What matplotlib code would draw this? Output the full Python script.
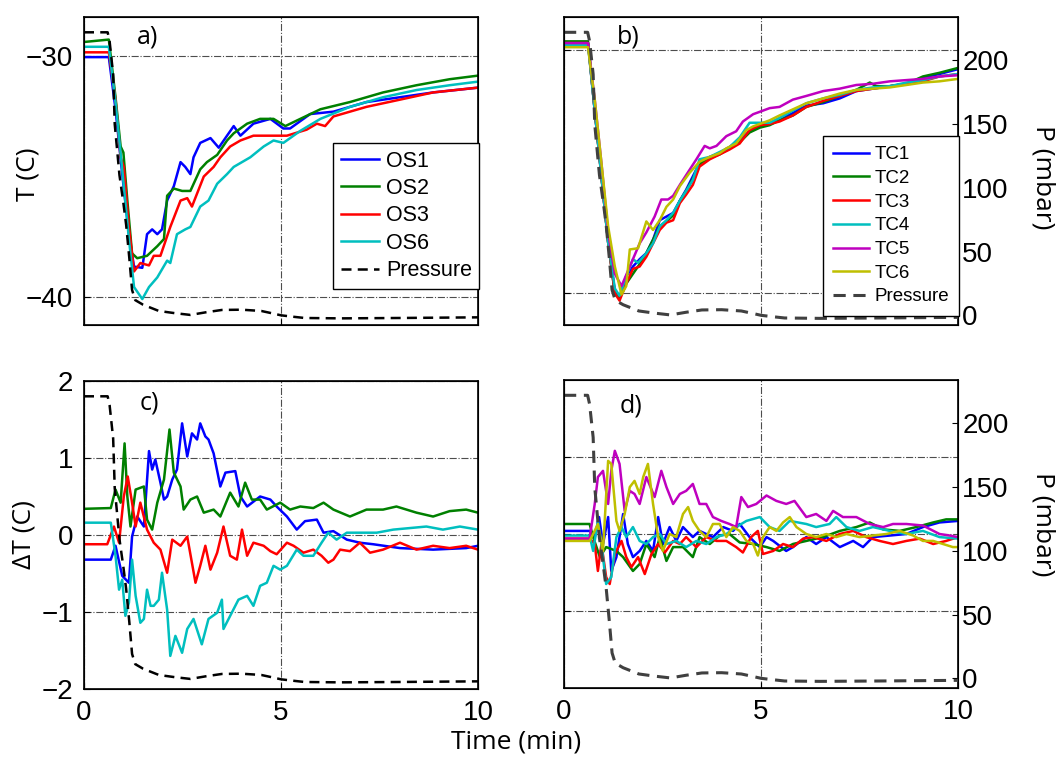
import numpy as np
import matplotlib
matplotlib.use("Agg")
import matplotlib.pyplot as plt
from matplotlib import font_manager

plt.rcParams['font.family'] = ['Liberation Sans', 'DejaVu Sans']

# narrow font for the crowded legend in b), if available
installed = {f.name for f in font_manager.fontManager.ttflist}
narrow = 'Liberation Sans Narrow' if 'Liberation Sans Narrow' in installed else 'Liberation Sans'

W, H = 1059, 757

# colours (matlab style)
c_blue, c_green, c_red = '#0000ff', '#008000', '#ff0000'
c_cyan, c_mag, c_yel = '#00bfbf', '#bf00bf', '#bfbf00'

# ---- pressure (mbar) vs time (min), same run for every panel
t_p = [0, 0.60, 0.65, 0.74, 0.78, 0.90, 1.00, 1.07, 1.15, 1.22, 1.30, 1.50, 1.90, 2.30, 2.70, 3.10, 3.50, 4.00,
       4.50, 4.80, 5.00, 5.30, 5.60, 6.50, 8.00, 10]
p_mbar = [222, 222, 215, 189, 150, 110, 88, 71, 45, 20, 12, 8.4, 3.5, 1.8, 0.4, 2.5, 4.3, 4.5,
          3.5, 1.5, 0.1, -1, -2, -2.3, -2, -1.5]

# ---- a) OS sensors temperature (C)
t_os1 = [0, 0.63, 0.80, 0.97, 1.14, 1.27, 1.48, 1.60, 1.73, 1.86, 1.98, 2.11, 2.28, 2.45, 2.57, 2.70, 2.78, 2.95,
         3.21, 3.42, 3.63, 3.80, 3.97, 4.30, 4.73, 5.06, 5.23, 5.74, 6.33, 7.17, 8.02, 8.86, 10]
T_os1 = [-30.03, -30.03, -32.2, -34.9, -37.4, -38.75, -38.8, -37.4, -37.2, -37.4, -37.2, -36.0, -35.4, -34.4, -34.6,
         -34.9, -34.2, -33.6, -33.4, -33.8, -33.3, -32.9, -33.3, -32.8, -32.6, -33.0, -33.0, -32.4, -32.3, -31.9,
         -31.7, -31.5, -31.3]
t_os2 = [0, 0.63, 0.80, 0.93, 1.00, 1.10, 1.22, 1.35, 1.60, 1.86, 2.03, 2.11, 2.28, 2.49, 2.70, 2.95, 3.12, 3.38,
         3.63, 3.80, 4.14, 4.47, 4.81, 5.11, 5.49, 6.00, 6.75, 7.59, 8.44, 9.28, 10]
T_os2 = [-29.4, -29.3, -31.7, -33.75, -34.0, -36.0, -38.2, -38.4, -38.3, -37.9, -37.6, -35.8, -35.5, -35.6, -35.6,
         -34.7, -34.4, -34.1, -33.5, -33.2, -32.8, -32.6, -32.6, -32.9, -32.6, -32.2, -31.9, -31.5, -31.2, -30.95,
         -30.8]
t_os3 = [0, 0.63, 0.80, 0.93, 1.01, 1.14, 1.27, 1.43, 1.65, 1.77, 1.94, 2.19, 2.45, 2.62, 2.74, 3.04, 3.29, 3.46,
         3.71, 3.97, 4.30, 4.64, 5.15, 5.65, 5.91, 6.12, 6.33, 7.17, 8.02, 8.86, 10]
T_os3 = [-29.83, -29.83, -31.8, -34.2, -34.6, -37.1, -38.95, -38.6, -38.7, -38.3, -38.3, -37.1, -36.0, -35.9, -36.25,
         -35.0, -34.6, -34.2, -33.75, -33.5, -33.3, -33.3, -33.3, -33.05, -32.8, -32.9, -32.5, -32.1, -31.8, -31.5,
         -31.3]
t_os6 = [0, 0.63, 0.80, 0.97, 1.14, 1.27, 1.48, 1.65, 1.86, 2.11, 2.19, 2.36, 2.57, 2.70, 2.95, 3.16, 3.38, 3.63,
         3.80, 4.22, 4.56, 4.81, 5.06, 5.49, 6.00, 6.75, 7.59, 8.44, 9.28, 10]
T_os6 = [-29.6, -29.6, -31.9, -34.7, -37.6, -39.6, -40.1, -39.6, -39.2, -38.5, -38.6, -37.4, -37.2, -37.1, -36.25,
         -36.0, -35.3, -34.9, -34.6, -34.2, -33.75, -33.5, -33.6, -33.1, -32.6, -32.1, -31.7, -31.4, -31.2, -31.05]

# ---- b) TC sensors temperature (C)
t_tc1 = [0, 0.61, 0.78, 0.95, 1.12, 1.29, 1.41, 1.58, 1.75, 1.92, 2.09, 2.26, 2.43, 2.60, 2.77, 2.94, 3.10, 3.27,
         3.44, 3.70, 3.95, 4.20, 4.46, 4.71, 4.97, 5.22, 5.47, 5.81, 6.15, 6.58, 7.00, 7.42, 7.84, 8.27, 8.69, 9.11,
         9.53, 10]
T_tc1 = [-29.73, -29.73, -32.5, -35.2, -37.9, -39.9, -40.2, -39.3, -38.9, -38.6, -38.35, -37.8, -37.0, -36.85, -36.7,
         -36.2, -35.75, -35.2, -34.65, -34.4, -34.25, -34.0, -33.7, -33.35, -33.15, -33.05, -32.9, -32.6, -32.3,
         -32.2, -32.0, -31.7, -31.6, -31.5, -31.4, -31.15, -31.0, -30.8]
t_tc2 = [0, 0.61, 0.78, 0.95, 1.12, 1.29, 1.41, 1.58, 1.75, 1.92, 2.09, 2.26, 2.43, 2.60, 2.77, 2.94, 3.10, 3.27,
         3.44, 3.70, 3.95, 4.20, 4.46, 4.71, 4.97, 5.22, 5.47, 5.81, 6.15, 6.58, 7.00, 7.42, 7.76, 7.93, 8.27, 8.69,
         9.11, 9.53, 10]
T_tc2 = [-29.66, -29.66, -32.5, -35.2, -37.9, -40.0, -40.2, -39.6, -39.2, -38.8, -38.35, -37.8, -37.25, -37.05, -36.8,
         -36.2, -35.8, -35.3, -34.7, -34.45, -34.3, -34.05, -33.8, -33.4, -33.2, -33.1, -32.9, -32.7, -32.35, -32.15,
         -31.9, -31.65, -31.35, -31.5, -31.5, -31.4, -31.1, -30.95, -30.75]
t_tc3 = [0, 0.61, 0.78, 0.95, 1.12, 1.29, 1.41, 1.58, 1.75, 1.92, 2.09, 2.26, 2.43, 2.60, 2.77, 2.94, 3.10, 3.27,
         3.44, 3.70, 3.95, 4.20, 4.46, 4.71, 4.97, 5.22, 5.47, 5.81, 6.15, 6.58, 7.00, 7.42, 7.84, 8.27, 8.69, 9.11,
         9.53, 10]
T_tc3 = [-29.73, -29.73, -32.5, -35.2, -37.9, -40.0, -40.3, -39.6, -39.0, -38.9, -38.5, -37.95, -37.4, -37.1, -37.0,
         -36.3, -35.95, -35.55, -34.8, -34.5, -34.3, -34.1, -33.85, -33.3, -33.1, -33.05, -32.95, -32.7, -32.35,
         -32.1, -31.9, -31.7, -31.6, -31.5, -31.4, -31.3, -31.1, -31.0]
t_tc4 = [0, 0.61, 0.78, 0.95, 1.12, 1.29, 1.41, 1.58, 1.75, 1.88, 2.09, 2.26, 2.43, 2.60, 2.77, 2.94, 3.10, 3.27,
         3.44, 3.70, 3.95, 4.20, 4.46, 4.71, 4.97, 5.22, 5.47, 5.81, 6.15, 6.58, 7.00, 7.42, 7.84, 8.27, 8.69, 9.11,
         9.53, 10]
T_tc4 = [-29.8, -29.8, -32.5, -35.2, -37.9, -39.8, -40.1, -39.3, -38.6, -38.75, -38.35, -37.95, -37.25, -37.0, -36.7,
         -36.2, -35.8, -35.35, -34.5, -34.4, -34.2, -34.0, -33.6, -33.0, -33.0, -33.0, -32.8, -32.5, -32.2, -32.0,
         -31.85, -31.65, -31.55, -31.5, -31.35, -31.25, -31.1, -31.0]
t_tc5 = [0, 0.61, 0.78, 0.95, 1.12, 1.29, 1.46, 1.67, 1.92, 2.09, 2.30, 2.47, 2.64, 2.77, 2.94, 3.10, 3.36, 3.57,
         3.70, 3.87, 4.12, 4.37, 4.54, 4.80, 4.97, 5.22, 5.47, 5.81, 6.15, 6.58, 7.00, 7.42, 7.84, 8.27, 8.69, 9.11,
         9.53, 10]
T_tc5 = [-29.73, -29.73, -32.05, -34.65, -37.5, -39.2, -39.7, -38.9, -37.95, -37.5, -36.85, -36.15, -36.15, -36.0,
         -35.55, -35.15, -34.5, -33.95, -34.05, -33.95, -33.55, -33.35, -32.95, -32.65, -32.55, -32.4, -32.35,
         -32.05, -31.9, -31.7, -31.6, -31.45, -31.4, -31.3, -31.25, -31.2, -31.1, -31.05]
t_tc6 = [0, 0.61, 0.78, 0.95, 1.12, 1.29, 1.46, 1.58, 1.67, 1.88, 2.09, 2.26, 2.43, 2.60, 2.77, 2.94, 3.19, 3.44,
         3.70, 3.95, 4.12, 4.37, 4.63, 4.80, 4.97, 5.22, 5.47, 5.81, 6.15, 6.58, 7.00, 7.42, 7.84, 8.27, 8.69, 9.11,
         9.53, 10]
T_tc6 = [-29.9, -29.9, -32.05, -34.65, -37.25, -38.9, -40.05, -39.7, -38.2, -38.15, -37.05, -37.4, -37.0, -36.45,
         -36.15, -35.6, -35.05, -34.6, -34.4, -34.25, -34.05, -33.85, -33.3, -33.15, -33.05, -32.9, -32.7, -32.45,
         -32.2, -32.0, -31.8, -31.65, -31.6, -31.55, -31.45, -31.35, -31.3, -31.2]

# ---- c) OS sensors deviation dT (C)
t_d_os1 = [0, 0.68, 0.80, 0.97, 1.14, 1.22, 1.35, 1.52, 1.65, 1.73, 1.81, 1.94, 2.03, 2.11, 2.24, 2.36, 2.49, 2.62,
           2.74, 2.87, 2.95, 3.08, 3.16, 3.29, 3.46, 3.59, 3.84, 3.97, 4.14, 4.47, 4.73, 4.89, 5.15, 5.40, 5.61,
           5.91, 6.08, 6.33, 6.67, 7.00, 7.34, 8.02, 8.86, 9.70, 10]
dT_os1 = [-0.32, -0.32, -0.14, -0.53, -0.62, -0.02, 0.24, 0.11, 1.09, 0.85, 0.98, 0.68, 0.46, 0.50, 0.72, 0.85,
          1.45, 1.02, 1.32, 1.24, 1.45, 1.28, 1.24, 1.06, 0.63, 0.81, 0.83, 0.50, 0.37, 0.50, 0.46, 0.37, 0.24,
          0.07, 0.18, 0.20, 0.03, 0.05, -0.06, -0.10, -0.12, -0.17, -0.19, -0.17, -0.14]
t_d_os2 = [0, 0.68, 0.80, 0.93, 1.03, 1.10, 1.18, 1.31, 1.52, 1.60, 1.73, 1.86, 2.03, 2.17, 2.28, 2.45, 2.53, 2.70,
           2.87, 3.04, 3.29, 3.46, 3.71, 3.92, 4.09, 4.26, 4.47, 4.64, 4.98, 5.23, 5.49, 5.82, 6.08, 6.33, 6.75,
           7.17, 7.59, 7.93, 8.44, 8.86, 9.28, 9.70, 10]
dT_os2 = [0.34, 0.35, 0.59, 0.42, 1.19, 0.50, 0.11, 0.59, 0.63, 0.20, 0.07, 0.42, 0.72, 1.37, 0.81, 0.63, 0.33,
          0.46, 0.50, 0.29, 0.33, 0.24, 0.55, 0.37, 0.68, 0.46, 0.46, 0.33, 0.42, 0.33, 0.37, 0.35, 0.42, 0.33,
          0.24, 0.33, 0.33, 0.37, 0.29, 0.24, 0.31, 0.33, 0.29]
t_d_os3 = [0, 0.59, 0.76, 0.89, 1.01, 1.11, 1.22, 1.31, 1.43, 1.60, 1.77, 1.94, 2.11, 2.24, 2.45, 2.62, 2.83, 2.95,
           3.08, 3.21, 3.38, 3.54, 3.71, 3.88, 4.01, 4.14, 4.30, 4.56, 4.73, 4.89, 5.15, 5.32, 5.57, 5.82, 6.03,
           6.20, 6.33, 6.50, 6.75, 7.00, 7.26, 7.59, 8.02, 8.44, 8.86, 9.28, 9.70, 10]
dT_os3 = [-0.12, -0.12, 0.11, -0.10, 0.50, 0.76, 0.42, 0.11, 0.42, 0.07, -0.10, -0.19, -0.49, -0.06, -0.14, -0.02,
          -0.62, -0.40, -0.14, -0.45, -0.23, 0.11, -0.27, -0.32, 0.07, -0.27, -0.10, -0.14, -0.21, -0.25, -0.10,
          -0.14, -0.23, -0.19, -0.27, -0.36, -0.32, -0.19, -0.21, -0.10, -0.23, -0.19, -0.10, -0.19, -0.14, -0.17,
          -0.14, -0.19]
t_d_os6 = [0, 0.68, 0.80, 0.89, 0.97, 1.05, 1.14, 1.22, 1.31, 1.43, 1.52, 1.60, 1.69, 1.77, 1.90, 1.98, 2.11, 2.19,
           2.32, 2.49, 2.62, 2.78, 2.99, 3.16, 3.38, 3.50, 3.54, 3.71, 3.92, 4.14, 4.30, 4.47, 4.64, 4.81, 4.98,
           5.15, 5.40, 5.57, 5.82, 6.03, 6.20, 6.41, 6.67, 7.00, 7.43, 7.85, 8.27, 8.69, 9.11, 9.54, 10]
dT_os6 = [0.16, 0.16, -0.27, -0.71, -0.58, -1.05, -0.88, -0.32, -0.79, -1.14, -1.09, -0.71, -0.92, -0.92, -0.84,
          -0.49, -0.97, -1.57, -1.31, -1.53, -1.22, -1.09, -1.42, -1.09, -1.01, -0.84, -1.22, -1.05, -0.84, -0.79,
          -0.92, -0.66, -0.62, -0.40, -0.45, -0.40, -0.19, -0.27, -0.27, -0.10, 0.03, -0.06, 0.03, 0.03, 0.03,
          0.07, 0.09, 0.11, 0.07, 0.11, 0.07]

# ---- d) TC sensors deviation dT (C)
t_d_tc1 = [0, 0.65, 0.78, 0.89, 0.99, 1.12, 1.20, 1.33, 1.50, 1.62, 1.75, 1.92, 2.09, 2.26, 2.39, 2.51, 2.68, 2.85,
           3.02, 3.27, 3.44, 3.78, 4.04, 4.29, 4.46, 4.71, 4.97, 5.14, 5.31, 5.64, 5.81, 6.15, 6.40, 6.66, 7.00,
           7.34, 7.59, 7.84, 8.27, 8.69, 9.11, 9.53, 10]
dT_tc1 = [0.04, 0.04, -0.04, 0.22, -0.13, 0.22, -0.48, -0.30, 0.26, -0.13, -0.30, -0.22, -0.09, -0.22, 0.22, -0.13,
          0.09, -0.09, 0.09, -0.04, 0.04, -0.04, 0.09, 0.04, 0.13, -0.04, -0.17, -0.04, -0.09, -0.22, -0.17, -0.04,
          -0.13, -0.04, -0.17, -0.09, -0.17, -0.04, -0.02, 0, 0.09, 0.15, 0.17]
t_d_tc2 = [0, 0.65, 0.74, 0.91, 1.07, 1.33, 1.50, 1.75, 1.92, 2.09, 2.30, 2.43, 2.60, 2.77, 3.02, 3.27, 3.44, 3.70,
           3.95, 4.20, 4.46, 4.80, 5.14, 5.47, 5.81, 6.15, 6.57, 7.00, 7.42, 7.76, 8.10, 8.52, 8.94, 9.37, 9.70, 10]
dT_tc2 = [0.13, 0.13, -0.04, -0.30, -0.17, -0.22, -0.30, -0.48, -0.39, -0.13, -0.30, -0.04, -0.35, -0.17, -0.17,
          -0.30, -0.04, -0.13, -0.02, 0, -0.11, -0.13, -0.17, -0.22, -0.13, -0.09, -0.04, 0.04, 0.09, 0.15, 0.06,
          0.04, 0.09, 0.15, 0.19, 0.19]
t_d_tc3 = [0, 0.65, 0.78, 0.86, 0.95, 1.07, 1.16, 1.29, 1.46, 1.58, 1.71, 1.88, 2.05, 2.22, 2.39, 2.56, 2.77, 2.94,
           3.10, 3.36, 3.61, 3.87, 4.12, 4.37, 4.54, 4.75, 4.92, 5.05, 5.31, 5.56, 5.81, 6.07, 6.32, 6.66, 7.00,
           7.34, 7.67, 8.01, 8.35, 8.69, 9.03, 9.37, 9.70, 10]
dT_tc3 = [-0.06, -0.06, -0.13, -0.48, -0.13, -0.56, -0.65, -0.26, -0.09, -0.30, -0.43, -0.30, -0.52, -0.26, -0.13,
          -0.24, -0.09, -0.13, -0.04, -0.17, -0.04, -0.09, -0.09, -0.17, -0.24, -0.04, 0.04, -0.26, -0.22, -0.13,
          -0.17, -0.06, -0.04, -0.09, 0, 0.04, -0.04, -0.09, -0.13, -0.09, -0.06, -0.13, -0.09, -0.04]
t_d_tc4 = [0, 0.65, 0.74, 0.86, 0.95, 1.07, 1.20, 1.33, 1.46, 1.58, 1.75, 1.92, 2.09, 2.26, 2.43, 2.60, 2.85, 3.10,
           3.36, 3.61, 3.87, 4.12, 4.37, 4.63, 4.97, 5.22, 5.47, 5.73, 6.15, 6.40, 6.74, 6.91, 7.17, 7.50, 7.84,
           8.27, 8.69, 9.11, 9.53, 10]
dT_tc4 = [-0.02, -0.02, -0.22, 0.17, -0.13, -0.65, -0.56, -0.04, 0.09, -0.04, 0.09, -0.09, -0.13, -0.04, 0, -0.13,
          -0.09, -0.17, -0.09, -0.13, -0.04, 0, 0.09, 0.17, 0.22, 0.09, 0.04, 0.17, 0.13, 0.09, 0.13, 0.22, 0.09,
          0.04, 0.09, 0.04, 0, 0.04, -0.04, -0.06]
t_d_tc5 = [0, 0.65, 0.78, 0.86, 0.99, 1.12, 1.20, 1.29, 1.41, 1.54, 1.67, 1.79, 1.92, 2.09, 2.30, 2.47, 2.60, 2.77,
           2.94, 3.10, 3.27, 3.44, 3.61, 3.78, 3.99, 4.20, 4.37, 4.50, 4.67, 4.88, 5.14, 5.39, 5.64, 5.85, 6.15,
           6.40, 6.66, 6.83, 7.08, 7.42, 7.76, 8.10, 8.35, 8.69, 9.11, 9.53, 9.79, 10]
dT_tc5 = [-0.06, -0.06, 0.39, 0.74, 0.82, 0.39, 0.82, 1.08, 0.91, 0.30, 0.56, 0.52, 0.39, 0.74, 0.48, 0.82, 0.61,
          0.39, 0.52, 0.56, 0.65, 0.39, 0.39, 0.22, 0.17, 0.13, 0.09, 0.48, 0.35, 0.39, 0.50, 0.43, 0.39, 0.43,
          0.22, 0.26, 0.17, 0.30, 0.22, 0.22, 0.13, 0.09, 0.13, 0.13, 0.11, 0, -0.02, -0.04]
t_d_tc6 = [0, 0.65, 0.74, 0.86, 0.99, 1.12, 1.20, 1.33, 1.41, 1.54, 1.67, 1.79, 1.92, 2.01, 2.13, 2.26, 2.39, 2.51,
           2.68, 2.85, 3.02, 3.15, 3.27, 3.44, 3.61, 3.78, 3.95, 4.12, 4.29, 4.46, 4.63, 4.80, 4.92, 5.05, 5.22,
           5.39, 5.56, 5.73, 5.90, 6.15, 6.40, 6.66, 6.91, 7.17, 7.50, 7.84, 8.18, 8.52, 8.86, 9.11, 9.37, 9.62,
           9.87, 10]
dT_tc6 = [-0.09, -0.09, 0, 0.13, -0.22, 0.95, 0.91, 0.17, 0.04, 0.26, 0.61, 0.69, 0.52, 0.74, 0.91, 0.39, -0.04,
          -0.22, 0, -0.04, 0.26, 0.35, 0.17, 0.04, -0.04, 0.13, 0.13, -0.04, 0.09, 0.04, -0.09, -0.13, -0.28, -0.04,
          0.09, 0.04, 0.15, 0.22, 0.09, 0, -0.04, 0, -0.04, 0, -0.04, -0.02, 0, 0.04, -0.02, -0.09, -0.09, -0.13,
          -0.17, -0.17]

os_names = ['OS1', 'OS2', 'OS3', 'OS6']
tc_names = ['TC1', 'TC2', 'TC3', 'TC4', 'TC5', 'TC6']
os_cols = [c_blue, c_green, c_red, c_cyan]
tc_cols = [c_blue, c_green, c_red, c_cyan, c_mag, c_yel]

LW = 1.8
TICK_FS = 20
LAB_FS = 19
p_lim = (-7.5, 234)


def px_axes(x0, y0, x1, y1):
    # axes rectangle given in pixel corners of the figure
    return fig.add_axes([x0 / W, 1 - y1 / H, (x1 - x0) / W, (y1 - y0) / H])


def style(ax, xlabels):
    ax.set_xlim(0, 10)
    ax.set_xticks([0, 5, 10])
    ax.grid(True, linestyle='-.', linewidth=0.8, color='0.3')
    ax.tick_params(direction='in', length=4, labelsize=TICK_FS, pad=8,
                   labelbottom=xlabels, right=False)
    for s in ax.spines.values():
        s.set_linewidth(1.2)


def label_y(ax, text, x, y, rot=90):
    # y label centred at axes-fraction (x, y)
    ax.set_ylabel(text, fontsize=LAB_FS, family='Open Sans', rotation=rot, va='center', ha='center')
    ax.yaxis.set_label_coords(x, y)


fig = plt.figure(figsize=(W / 100, H / 100), dpi=100)

ax_a = px_axes(84, 17, 478, 325)
ax_b = px_axes(564, 17, 958, 325)
ax_c = px_axes(84, 381, 478, 689)
ax_d = px_axes(564, 380, 958, 688)

# ---- a)
lines_a = []
for t, T, n, c in zip([t_os1, t_os2, t_os3, t_os6], [T_os1, T_os2, T_os3, T_os6], os_names, os_cols):
    lines_a += ax_a.plot(t, T, color=c, lw=LW, label=n)
ax_a.set_ylim(-41.18, -28.36)
ax_a.set_yticks([-40, -30])
style(ax_a, False)
label_y(ax_a, 'T (C)', -0.143, 0.49)
pa = ax_a.twinx()
lines_a += pa.plot(t_p, p_mbar, color='k', ls='--', dashes=(4, 2.5), lw=LW, label='Pressure')
pa.set_ylim(*p_lim)
pa.set_yticks([])
leg = pa.legend(handles=lines_a, loc='upper left', bbox_to_anchor=(0.632, 0.591), fontsize=15.5,
                fancybox=False, framealpha=1, edgecolor='k', handlelength=1.8, handletextpad=0.3,
                labelspacing=0.3, borderpad=0.35, borderaxespad=0)
leg.get_frame().set_linewidth(1.0)
ax_a.text(0.135, 0.935, 'a)', transform=ax_a.transAxes, fontsize=18, family='Open Sans', va='center')

# ---- b)
lines_b = []
for t, T, n, c in zip([t_tc1, t_tc2, t_tc3, t_tc4, t_tc5, t_tc6],
                      [T_tc1, T_tc2, T_tc3, T_tc4, T_tc5, T_tc6], tc_names, tc_cols):
    lines_b += ax_b.plot(t, T, color=c, lw=LW, label=n)
ax_b.set_ylim(-41.3, -28.66)
ax_b.set_yticks([-40, -30])
style(ax_b, False)
ax_b.tick_params(labelleft=False)
pb = ax_b.twinx()
lines_b += pb.plot(t_p, p_mbar, color='#404040', ls='--', dashes=(4, 2.5), lw=2.2, label='Pressure')
pb.set_ylim(*p_lim)
pb.set_yticks([0, 50, 100, 150, 200])
pb.tick_params(direction='in', length=4, labelsize=TICK_FS, pad=3)
label_y(pb, 'P (mbar)', 1.216, 0.48, rot=270)
leg = pb.legend(handles=lines_b, loc='upper left', bbox_to_anchor=(0.657, 0.614),
                prop={'family': narrow, 'size': 13.5},
                fancybox=False, framealpha=1, edgecolor='k', handlelength=1.9, handletextpad=0.3,
                labelspacing=0.35, borderpad=0.55, borderaxespad=0)
leg.get_frame().set_linewidth(1.0)
ax_b.text(0.135, 0.935, 'b)', transform=ax_b.transAxes, fontsize=18, family='Open Sans', va='center')

# ---- c)
for t, d, c in zip([t_d_os1, t_d_os2, t_d_os3, t_d_os6], [dT_os1, dT_os2, dT_os3, dT_os6], os_cols):
    ax_c.plot(t, d, color=c, lw=LW)
ax_c.set_ylim(-2, 2)
ax_c.set_yticks([-2, -1, 0, 1, 2])
style(ax_c, True)
label_y(ax_c, '\u0394T (C)', -0.152, 0.5)
pc = ax_c.twinx()
pc.plot(t_p, p_mbar, color='k', ls='--', dashes=(4, 2.5), lw=LW)
pc.set_ylim(*p_lim)
pc.set_yticks([])
ax_c.text(0.14, 0.928, 'c)', transform=ax_c.transAxes, fontsize=18, family='Open Sans', va='center')

# ---- d)
for t, d, c in zip([t_d_tc1, t_d_tc2, t_d_tc3, t_d_tc4, t_d_tc5, t_d_tc6],
                   [dT_tc1, dT_tc2, dT_tc3, dT_tc4, dT_tc5, dT_tc6], tc_cols):
    ax_d.plot(t, d, color=c, lw=LW)
ax_d.set_ylim(-2, 2)
ax_d.set_yticks([-1, 0, 1])
style(ax_d, True)
ax_d.tick_params(labelleft=False)
pd_ = ax_d.twinx()
pd_.plot(t_p, p_mbar, color='#404040', ls='--', dashes=(4, 2.5), lw=2.2)
pd_.set_ylim(*p_lim)
pd_.set_yticks([0, 50, 100, 150, 200])
pd_.tick_params(direction='in', length=4, labelsize=TICK_FS, pad=3)
label_y(pd_, 'P (mbar)', 1.216, 0.532, rot=270)
ax_d.text(0.14, 0.916, 'd)', transform=ax_d.transAxes, fontsize=18, family='Open Sans', va='center')

fig.text(516 / W, 1 - 742 / H, 'Time (min)', fontsize=LAB_FS, family='Open Sans', ha='center', va='center')

fig.savefig('out.png', dpi=100)
